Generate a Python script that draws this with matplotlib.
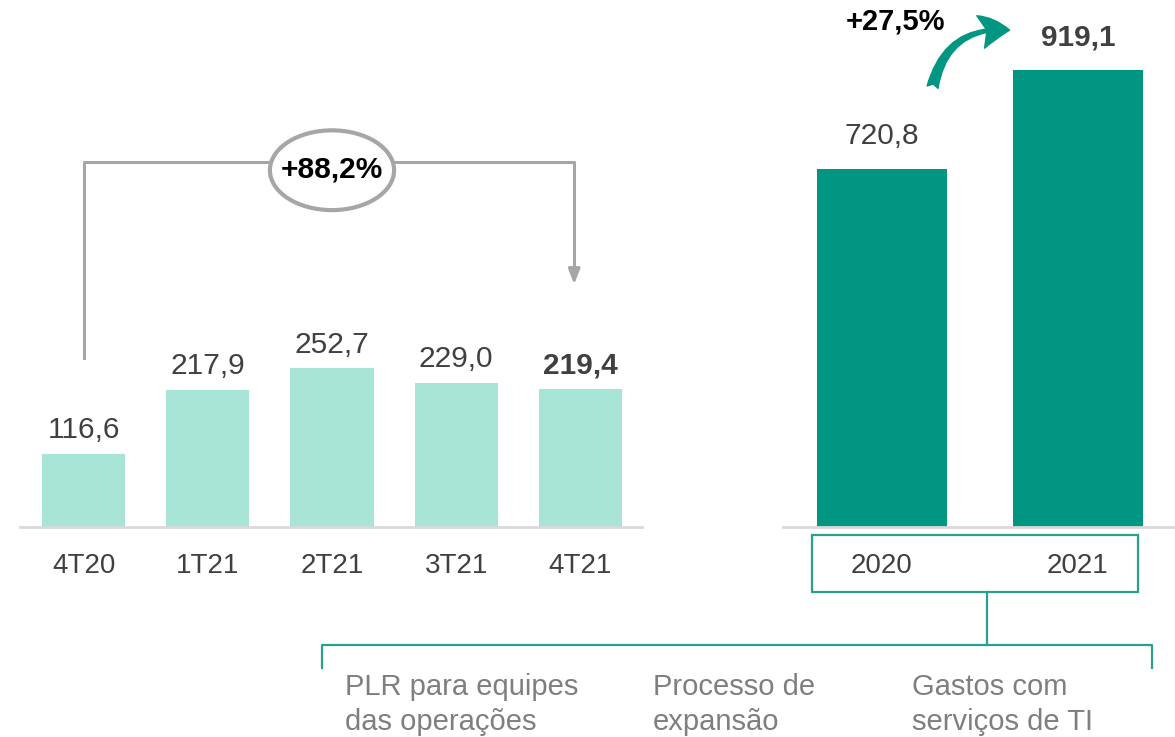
import matplotlib.pyplot as plt
from matplotlib.patches import Ellipse, FancyArrowPatch, Rectangle
from matplotlib.lines import Line2D

plt.rcParams['font.family'] = ['Liberation Sans', 'DejaVu Sans']

# quarterly values
quarters = ['4T20', '1T21', '2T21', '3T21', '4T21']
quarter_values = [116.6, 217.9, 252.7, 229.0, 219.4]
quarter_growth = '+88,2%'

# yearly values
years = ['2020', '2021']
year_values = [720.8, 919.1]
year_growth = '+27,5%'

drivers = ['PLR para equipes\ndas operações', 'Processo de\nexpansão',
           'Gastos com\nserviços de TI']

light_green = '#A8E5D6'
dark_green = '#009681'
teal_line = '#2AA08F'
label_grey = '#404040'
bracket_grey = '#A6A6A6'

W, H = 1175, 737
fig = plt.figure(figsize=(W / 100, H / 100), dpi=100)


def fx(px):
    return px / W


def fy(py):
    return 1 - py / H


def fmt(v):
    return f'{v:.1f}'.replace('.', ',')


def style_axis(ax):
    for s in ['top', 'left', 'right']:
        ax.spines[s].set_visible(False)
    ax.spines['bottom'].set_color('#D9D9D9')
    ax.spines['bottom'].set_linewidth(2)
    ax.set_yticks([])
    ax.tick_params(axis='x', length=0, pad=19, labelsize=20,
                   labelcolor=label_grey)


# left panel: quarters
ax1 = fig.add_axes([fx(20), fy(527), fx(642 - 20), 527 / H])
ax1.bar(range(len(quarters)), quarter_values, width=0.67, color=light_green)
ax1.set_xlim(-0.512, 4.496)
ax1.set_ylim(0, 839)
ax1.set_xticks(range(len(quarters)), quarters)
style_axis(ax1)
for i, v in enumerate(quarter_values):
    last = i == len(quarter_values) - 1
    ax1.annotate(fmt(v), (i, v), xytext=(0, 7), textcoords='offset points',
                 ha='center', va='bottom', fontsize=21.5, color=label_grey,
                 fontweight='bold' if last else 'normal')

# bracket from first to last quarter
top_y = 581
kw = dict(color=bracket_grey, lw=2.2, clip_on=False, zorder=3)
ax1.plot([0, 0, 3.95, 3.95], [269, top_y, top_y, 400], **kw)
ax1.annotate('', xy=(3.95, 382), xytext=(3.95, 406),
             arrowprops=dict(arrowstyle='-|>,head_length=0.9,head_width=0.35',
                             color=bracket_grey, lw=2.2),
             annotation_clip=False)
ax1.add_patch(Ellipse((2.0, 568), 1.0, 127, facecolor='white',
                      edgecolor=bracket_grey, lw=3.0, clip_on=False, zorder=4))
ax1.text(2.0, 569, quarter_growth, ha='center', va='center', fontsize=21.5,
         fontweight='bold', color='black', zorder=5)

# right panel: years
ax2 = fig.add_axes([fx(783), fy(527), fx(1175 - 783), 527 / H])
ax2.bar(range(len(years)), year_values, width=0.665, color=dark_green)
ax2.set_xlim(-0.505, 1.495)
ax2.set_ylim(0, 1061)
ax2.set_xticks(range(len(years)), years)
style_axis(ax2)
for i, v in enumerate(year_values):
    last = i == len(year_values) - 1
    ax2.annotate(fmt(v), (i, v), xytext=(0, 14), textcoords='offset points',
                 ha='center', va='bottom', fontsize=21.5, color=label_grey,
                 fontweight='bold' if last else 'normal')

ax2.add_patch(FancyArrowPatch(
    (0.255, 880), (0.665, 1000), connectionstyle='arc3,rad=-0.45',
    arrowstyle='fancy,head_length=13,head_width=15,tail_width=5',
    color=dark_green, clip_on=False, mutation_scale=1.6))
ax2.text(0.07, 1018, year_growth, ha='center', va='center', fontsize=21,
         fontweight='bold', color='black', clip_on=False)

# box round the year labels and the brace to the drivers
line_kw = dict(color=teal_line, lw=1.6, transform=fig.transFigure)
fig.add_artist(Rectangle((fx(812), fy(592)), fx(1138 - 812), (592 - 535) / H,
                         fill=False, edgecolor=teal_line, lw=1.6,
                         transform=fig.transFigure))
fig.add_artist(Line2D([fx(987), fx(987)], [fy(592), fy(645)], **line_kw))
fig.add_artist(Line2D([fx(322), fx(322), fx(1152), fx(1152)],
                      [fy(668), fy(645), fy(645), fy(668)], **line_kw))

for x, txt in zip([345, 653, 912], drivers):
    fig.text(fx(x), fy(673), txt, ha='left', va='top', fontsize=21,
             color='#7F7F7F', linespacing=1.3)

fig.savefig('out.png', dpi=100)
